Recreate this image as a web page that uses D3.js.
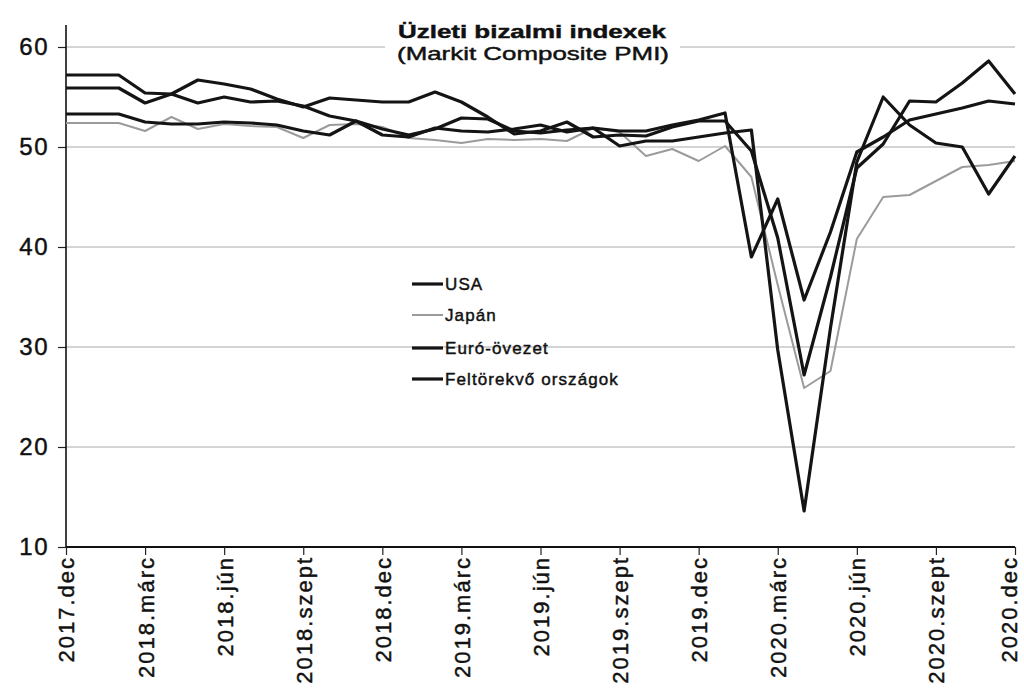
<!DOCTYPE html>
<html>
<head>
<meta charset="utf-8">
<script src="https://cdn.jsdelivr.net/npm/d3@7"></script>
<style>
  html, body { margin: 0; padding: 0; background: #fff; }
  svg { display: block; font-family: "Liberation Sans", Arial, sans-serif; }
  svg text { stroke: #111; stroke-width: 0.45px; }
</style>
</head>
<body>
<svg id="chart" width="1024" height="695"></svg>
<script>
const months = [
  "2017.dec",
  "2018.jan","2018.febr","2018.márc","2018.ápr","2018.máj","2018.jún","2018.júl","2018.aug","2018.szept","2018.okt","2018.nov","2018.dec",
  "2019.jan","2019.febr","2019.márc","2019.ápr","2019.máj","2019.jún","2019.júl","2019.aug","2019.szept","2019.okt","2019.nov","2019.dec",
  "2020.jan","2020.febr","2020.márc","2020.ápr","2020.máj","2020.jún","2020.júl","2020.aug","2020.szept","2020.okt","2020.nov","2020.dec"
];
const tickLabels = ["2017.dec","2018.márc","2018.jún","2018.szept","2018.dec","2019.márc","2019.jún","2019.szept","2019.dec","2020.márc","2020.jún","2020.szept","2020.dec"];
const yTicks = [10, 20, 30, 40, 50, 60];
const gridValues = [20, 30, 40, 50, 60];

const usa = [55.9,55.9,55.9,54.4,55.3,56.7,56.3,55.8,54.8,54.0,54.9,54.7,54.5,54.5,55.5,54.5,53.0,51.3,51.6,52.5,51.0,51.2,51.1,52.0,52.6,52.6,49.6,40.9,27.2,37.0,47.9,50.3,54.6,54.5,56.4,58.6,55.3];
const japan = [52.4,52.4,52.4,51.6,53.0,51.8,52.3,52.1,52.0,50.9,52.2,52.3,52.0,50.9,50.7,50.4,50.8,50.7,50.8,50.6,51.9,51.5,49.1,49.8,48.6,50.1,47.0,36.2,25.9,27.6,40.8,45.0,45.2,46.6,48.0,48.2,48.6];
const euro = [57.2,57.2,57.2,55.4,55.3,54.4,55.0,54.5,54.6,54.1,53.1,52.6,51.2,51.0,51.9,51.6,51.5,51.8,52.2,51.5,51.9,50.1,50.6,50.6,51.0,51.4,51.7,29.7,13.6,31.9,48.5,55.0,52.2,50.4,50.0,45.3,49.1];
const emerging = [53.3,53.3,53.3,52.5,52.3,52.3,52.5,52.4,52.2,51.6,51.2,52.6,51.8,51.2,51.8,52.9,52.8,51.6,51.4,51.7,51.9,51.6,51.6,52.2,52.7,53.4,39.0,44.8,34.7,41.5,49.5,51.0,52.7,53.3,53.9,54.6,54.3];

const seriesNames = ["USA", "Japán", "Euró-övezet", "Feltörekvő országok"];
const seriesValues = [usa, japan, euro, emerging];
const seriesColors = ["#141414", "#9b9b9b", "#141414", "#141414"];
const seriesWidths = [3.2, 2, 3.2, 3.2];

const titleText = "Üzleti bizalmi indexek";
const subtitleText = "(Markit Composite PMI)";

const svg = d3.select("#chart");
const x = d3.scalePoint().domain(months).range([66, 1015]);
const y = d3.scaleLinear().domain([10, 60]).range([547, 47]);

// gridlines
svg.append("g").selectAll("line").data(gridValues).join("line")
  .attr("x1", 66).attr("x2", 1015)
  .attr("y1", d => y(d)).attr("y2", d => y(d))
  .attr("stroke", "#c6c6c6").attr("stroke-width", 1.3);

// title (white box over gridline)
svg.append("rect").attr("x", 385).attr("y", 14).attr("width", 295).attr("height", 56).attr("fill", "#fff");
svg.append("text").attr("x", 532).attr("y", 38).attr("text-anchor", "middle")
  .attr("font-size", 19).attr("font-weight", "bold").attr("fill", "#111")
  .attr("textLength", 268).attr("lengthAdjust", "spacingAndGlyphs")
  .text(titleText);
svg.append("text").attr("x", 533).attr("y", 60).attr("text-anchor", "middle")
  .attr("font-size", 19).attr("fill", "#111")
  .attr("textLength", 272).attr("lengthAdjust", "spacingAndGlyphs")
  .text(subtitleText);

// y axis
const yAxis = d3.axisLeft(y).tickValues(yTicks).tickSize(8).tickPadding(9).tickFormat(d3.format("d"));
const gy = svg.append("g").attr("transform", "translate(66,0)").call(yAxis);
gy.select(".domain").remove();
gy.selectAll(".tick line").attr("stroke", "#222").attr("stroke-width", 1.2);
gy.selectAll(".tick text").attr("font-size", 24).attr("fill", "#111")
  .attr("font-family", "Liberation Sans, Arial, sans-serif").style("letter-spacing", "1.5px");
svg.append("line").attr("x1", 66).attr("x2", 66).attr("y1", 25).attr("y2", 547)
  .attr("stroke", "#111").attr("stroke-width", 1.6);

// x axis
const xAxis = d3.axisBottom(x).tickValues(tickLabels).tickSize(8).tickFormat(d => d);
const gx = svg.append("g").attr("transform", "translate(0,547)").call(xAxis);
gx.select(".domain").attr("stroke", "#111").attr("stroke-width", 1.8).attr("d", "M66,0H1015");
gx.selectAll(".tick line").attr("stroke", "#222").attr("stroke-width", 1.2);
gx.selectAll(".tick text")
  .attr("font-size", 22).attr("fill", "#111")
  .attr("font-family", "Liberation Sans, Arial, sans-serif")
  .style("letter-spacing", "2px")
  .attr("text-anchor", "end")
  .attr("transform", (d, i) => i === tickLabels.length - 1 ? "translate(-6,9) rotate(-90)" : "translate(0,9) rotate(-90)")
  .attr("x", 0).attr("y", 0).attr("dy", "0.36em");

// lines
const line = d3.line().x((d, i) => x(months[i])).y(d => y(d));
const order = [1, 0, 3, 2];
svg.append("g").selectAll("path").data(order).join("path")
  .attr("d", k => line(seriesValues[k]))
  .attr("fill", "none")
  .attr("stroke", k => seriesColors[k])
  .attr("stroke-width", k => seriesWidths[k])
  .attr("stroke-linejoin", "round");

// legend
const lg = svg.append("g");
const legendY = [284, 315, 348, 379];
seriesNames.forEach((name, i) => {
  lg.append("line").attr("x1", 412).attr("x2", 443).attr("y1", legendY[i]).attr("y2", legendY[i])
    .attr("stroke", seriesColors[i]).attr("stroke-width", seriesWidths[i]);
  lg.append("text").attr("x", 445).attr("y", legendY[i]).attr("dy", "0.36em")
    .attr("font-size", 17).attr("fill", "#111").style("letter-spacing", "1.1px")
    .text(name);
});
</script>
</body>
</html>
